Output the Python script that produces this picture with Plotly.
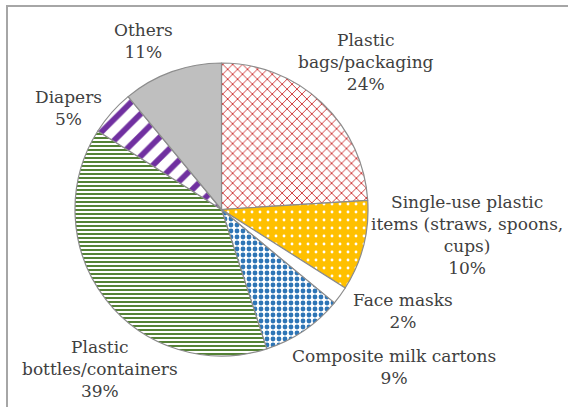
import plotly.graph_objects as go

# Plastic waste composition (share of total, %)
categories = [
    "Plastic<br>bags/packaging",
    "Single-use plastic<br>items (straws, spoons,<br>cups)",
    "Face masks",
    "Composite milk cartons",
    "Plastic<br>bottles/containers",
    "Diapers",
    "Others",
]
shares = [24, 10, 2, 9, 39, 5, 11]

# Fill styles per slice
bg_colors = ["#FFFFFF", "#FFC000", "#FFFFFF", "#FFFFFF", "#FFFFFF", "#FFFFFF", "#BFBFBF"]
fg_colors = ["#C00000", "#FFFFFF", "#FFFFFF", "#2E75B6", "#548235", "#7030A0", "#BFBFBF"]
pattern_shapes = ["x", ".", "", ".", "-", "/", ""]
pattern_sizes = [7, 8, 8, 6, 4, 15, 8]
pattern_solidity = [0.2, 0.1, 0.3, 0.5, 0.5, 0.38, 0.3]

LABEL_FONT = "DejaVu Serif"

# Label anchor positions (pixels in a 568x407 canvas)
W, H = 568, 407
label_xy = [
    (366, 62),
    (467, 235),
    (403, 311),
    (394, 367),
    (100, 369),
    (68, 108),
    (143, 41),
]

fig = go.Figure(
    go.Pie(
        labels=categories,
        values=shares,
        sort=False,
        direction="clockwise",
        rotation=0,
        textinfo="none",
        hoverinfo="label+percent",
        showlegend=False,
        domain=dict(x=[75 / W, 368 / W], y=[1 - 356 / H, 1 - 63 / H]),
        marker=dict(
            colors=bg_colors,
            line=dict(color="#8C8C8C", width=1.2),
            pattern=dict(
                shape=pattern_shapes,
                fgcolor=fg_colors,
                fgopacity=1,
                size=pattern_sizes,
                solidity=pattern_solidity,
                fillmode="overlay",
            ),
        ),
    )
)

total = sum(shares)
for name, val, (px, py) in zip(categories, shares, label_xy):
    fig.add_annotation(
        x=px / W,
        y=1 - py / H,
        xref="paper",
        yref="paper",
        xanchor="center",
        yanchor="middle",
        text=f"{name}<br>{round(100 * val / total)}%",
        showarrow=False,
        align="center",
        font=dict(family=LABEL_FONT, size=17, color="#404040"),
    )

# Chart frame
fig.add_shape(
    type="rect",
    xref="paper",
    yref="paper",
    x0=7 / W,
    x1=1.05,
    y0=-0.05,
    y1=1 - 6 / H,
    line=dict(color="#A6A6A6", width=2),
    fillcolor="rgba(0,0,0,0)",
)

fig.update_layout(
    width=W,
    height=H,
    margin=dict(l=0, r=0, t=0, b=0),
    font=dict(family=LABEL_FONT),
    paper_bgcolor="#FFFFFF",
    plot_bgcolor="#FFFFFF",
)

fig.write_html("out.html")
